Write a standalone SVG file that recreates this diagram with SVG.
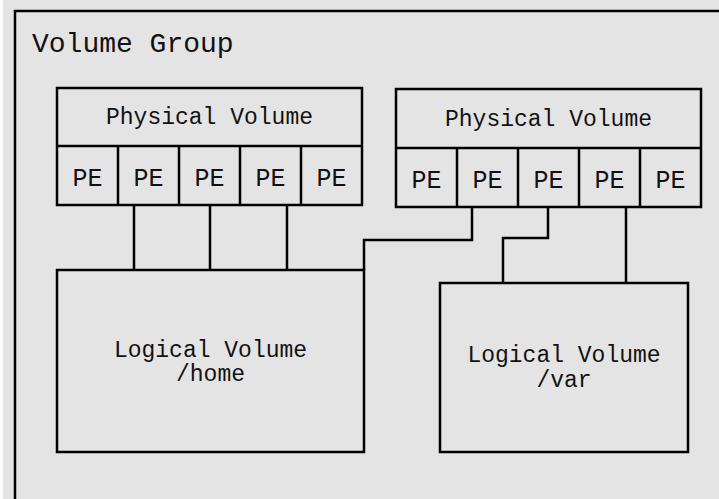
<svg xmlns="http://www.w3.org/2000/svg" width="719" height="499" viewBox="0 0 719 499">
<style>
.box{fill:none;stroke:#000;stroke-width:2.5}
.ln{fill:none;stroke:#000;stroke-width:2.5}
text{font-family:"Liberation Mono","DejaVu Sans Mono",monospace;fill:#111;text-anchor:middle}
.t1{font-size:28px}
.t2{font-size:23px}
.pe{font-size:25px}
</style>
<rect x="0" y="0" width="719" height="499" fill="#e4e4e4"/>
<rect x="0" y="0" width="3" height="499" fill="#fff"/>
<g id="volume-group">
<path class="ln" d="M15,499 V11 H719"/>
<text x="32" y="52" class="t1" style="text-anchor:start">Volume Group</text>
</g>
<g id="pv1">
<rect class="box" x="57" y="88" width="305" height="117"/>
<line class="ln" x1="57" y1="146" x2="362" y2="146"/>
<path class="ln" d="M118,146V205M179,146V205M240,146V205M301,146V205"/>
<text x="209.5" y="124" class="t2">Physical Volume</text>
<text x="87.5" y="186" class="pe">PE</text>
<text x="148.5" y="186" class="pe">PE</text>
<text x="209.5" y="186" class="pe">PE</text>
<text x="270.5" y="186" class="pe">PE</text>
<text x="331.5" y="186" class="pe">PE</text>
</g>
<g id="pv2">
<rect class="box" x="396" y="89" width="305" height="118"/>
<line class="ln" x1="396" y1="148" x2="701" y2="148"/>
<path class="ln" d="M457,148V207M518,148V207M579,148V207M640,148V207"/>
<text x="548.5" y="126" class="t2">Physical Volume</text>
<text x="426.5" y="188" class="pe">PE</text>
<text x="487.5" y="188" class="pe">PE</text>
<text x="548.5" y="188" class="pe">PE</text>
<text x="609.5" y="188" class="pe">PE</text>
<text x="670.5" y="188" class="pe">PE</text>
</g>
<g id="lv-home">
<rect class="box" x="57" y="270" width="307" height="182"/>
<text x="210.5" y="357" class="t2">Logical Volume</text>
<text x="210.5" y="381" class="t2">/home</text>
</g>
<g id="lv-var">
<rect class="box" x="440" y="283" width="248" height="169"/>
<text x="564" y="362" class="t2">Logical Volume</text>
<text x="564" y="387" class="t2">/var</text>
</g>
<g id="connectors">
<path class="ln" d="M134,205V270"/>
<path class="ln" d="M210,205V270"/>
<path class="ln" d="M287,205V270"/>
<path class="ln" d="M472,207V240H364V270"/>
<path class="ln" d="M548,207V238H503V283"/>
<path class="ln" d="M626,207V283"/>
</g>
</svg>
